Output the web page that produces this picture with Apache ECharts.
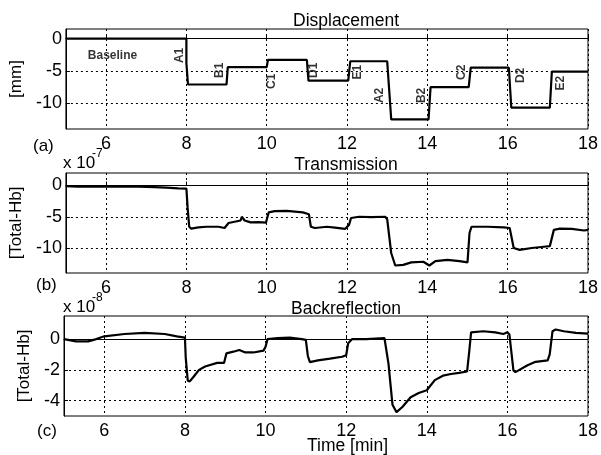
<!DOCTYPE html>
<html><head><meta charset="utf-8">
<script src="https://cdn.jsdelivr.net/npm/echarts@6/dist/echarts.min.js"></script>
<style>html,body{margin:0;padding:0;background:#fff}#c{width:601px;height:455px}</style>
</head><body><div id="c"></div>
<script>
// ---- data ----
const xTicks = [6, 8, 10, 12, 14, 16, 18];
const dispTicks = [-10, -5, 0];
const transTicks = [-10, -5, 0];
const backTicks = [-4, -2, 0];

const dispTime  = [5, 8.0, 8.0, 8.04, 8.04, 9.0, 9.03, 10.0, 10.03, 11.0, 11.04, 12.03, 12.08, 13.0, 13.1, 14.03, 14.08, 15.03, 15.08, 16.03, 16.09, 17.05, 17.1, 18];
const dispValue = [0, 0, -3.8, -3.8, -7.1, -7.1, -4.4, -4.4, -3.3, -3.3, -6.5, -6.5, -3.5, -3.5, -12.5, -12.5, -7.5, -7.5, -4.5, -4.5, -10.7, -10.7, -5.1, -5.1];

const transTime  = [5.0, 5.3, 5.6, 6.0, 6.4, 6.8, 7.2, 7.5, 7.8, 8.0, 8.03, 8.07, 8.12, 8.3, 8.5, 8.8, 8.95, 9.05, 9.2, 9.35, 9.38, 9.45, 9.6, 9.8, 9.98, 10.05, 10.2, 10.5, 10.9, 11.05, 11.1, 11.2, 11.5, 11.7, 11.95, 12.05, 12.1, 12.3, 12.6, 12.95, 13.0, 13.1, 13.2, 13.4, 13.6, 13.9, 14.05, 14.2, 14.5, 14.8, 15.0, 15.05, 15.1, 15.5, 15.9, 16.05, 16.15, 16.3, 16.6, 16.9, 17.05, 17.15, 17.3, 17.6, 17.9, 18.0];
const transValue = [-0.1, -0.2, -0.15, -0.2, -0.15, -0.2, -0.25, -0.35, -0.45, -0.5, -3.5, -6.6, -6.9, -6.7, -6.6, -6.6, -6.8, -6.0, -5.8, -5.6, -5.0, -5.6, -5.9, -5.85, -5.95, -4.3, -4.1, -4.05, -4.3, -4.6, -6.6, -6.8, -6.6, -6.75, -6.95, -6.3, -5.2, -5.0, -5.05, -5.0, -5.4, -10.8, -12.8, -12.7, -12.3, -12.2, -12.8, -12.1, -11.9, -12.1, -12.3, -7.6, -6.6, -6.6, -6.7, -6.8, -10.0, -10.3, -10.0, -9.8, -9.7, -7.1, -6.9, -6.95, -7.2, -7.1];

const backTime  = [5.0, 5.3, 5.6, 5.8, 6.0, 6.5, 7.0, 7.5, 7.8, 8.0, 8.02, 8.07, 8.12, 8.2, 8.35, 8.5, 8.8, 8.97, 9.03, 9.2, 9.35, 9.5, 9.7, 9.95, 10.0, 10.05, 10.3, 10.6, 10.9, 11.0, 11.05, 11.1, 11.3, 11.6, 11.9, 12.0, 12.05, 12.15, 12.5, 12.95, 13.05, 13.15, 13.25, 13.4, 13.6, 13.8, 14.0, 14.2, 14.4, 14.6, 14.8, 15.0, 15.05, 15.1, 15.4, 15.7, 15.9, 16.0, 16.05, 16.15, 16.2, 16.5, 16.7, 17.0, 17.05, 17.12, 17.2, 17.4, 17.7, 18.0];
const backValue = [0, -0.15, -0.15, 0, 0.18, 0.33, 0.4, 0.33, 0.18, 0.1, -1.2, -2.7, -2.75, -2.5, -2.0, -1.78, -1.55, -1.55, -0.93, -0.82, -0.71, -0.87, -0.87, -0.75, -0.5, 0, 0.07, 0.1, 0, -0.05, -1.1, -1.5, -1.38, -1.27, -1.15, -1.05, -0.27, 0, 0, 0.07, -1.6, -4.27, -4.75, -4.4, -3.78, -3.5, -3.33, -2.67, -2.38, -2.27, -2.2, -2.11, -0.9, 0.44, 0.51, 0.44, 0.33, 0.44, 0.3, -2.04, -2.15, -1.7, -1.48, -1.38, -1.0, 0.51, 0.62, 0.51, 0.4, 0.36];

const markNames = ['A1', 'B1', 'C1', 'D1', 'E1', 'A2', 'B2', 'C2', 'D2', 'E2'];
const markTime  = [7.84, 8.83, 10.12, 11.18, 12.27, 12.81, 13.87, 14.86, 16.32, 17.33];
const markValue = [-2.6, -4.9, -6.6, -4.9, -5.2, -8.8, -8.8, -5.2, -5.7, -6.9];
const baselineLabel = {name: 'Baseline', time: 6.16, value: -2.6};

// ---- chart ----
const FONT = "'Liberation Sans', Arial, sans-serif";
const zip = (a, b) => a.map((v, i) => [v, b[i]]);
const grids = [
  {left: 64, right: 11, top: 29, height: 100},
  {left: 64, right: 11, top: 173, height: 100},
  {left: 64, right: 11, top: 316, height: 100}
].map(g => Object.assign(g, {show: true, borderColor: '#000', borderWidth: 1, backgroundColor: '#fff'}));

const dotted = {show: true, lineStyle: {color: '#000', width: 1, type: [2, 3]}};
function xAxis(i) {
  return {
    type: 'value', gridIndex: i, min: 5, max: 18,
    axisLine: {show: true, lineStyle: {color: '#000'}},
    axisTick: {show: true, inside: true, length: 4, customValues: xTicks, lineStyle: {color: '#000'}},
    axisLabel: {customValues: xTicks, fontFamily: FONT, fontSize: 18, color: '#000', margin: 6},
    splitLine: dotted
  };
}
function yAxis(i, min, max, ticks, name, gap) {
  return {
    type: 'value', gridIndex: i, min: min, max: max,
    name: name, nameLocation: 'middle', nameGap: gap, nameRotate: 90,
    nameTextStyle: {fontFamily: FONT, fontSize: 17, color: '#000'},
    axisLine: {show: true, lineStyle: {color: '#000'}},
    axisTick: {show: true, inside: true, length: 4, customValues: ticks, lineStyle: {color: '#000'}},
    axisLabel: {customValues: ticks, fontFamily: FONT, fontSize: 18, color: '#000', margin: 4},
    splitLine: dotted
  };
}
const lineStyle = {color: '#000', width: 2.2};
const option = {
  backgroundColor: '#fff',
  animation: false,
  grid: grids,
  xAxis: [xAxis(0), xAxis(1), xAxis(2)],
  yAxis: [
    yAxis(0, -14, 1.5, dispTicks, '[mm]', 34),
    yAxis(1, -14, 2, transTicks, '[Total-Hb]', 32),
    yAxis(2, -5, 1.5, backTicks, '[Total-Hb]', 31)
  ],
  title: [
    {text: 'Displacement', left: 346, top: 12},
    {text: 'Transmission', left: 346, top: 156},
    {text: 'Backreflection', left: 346, top: 300}
  ].map(t => Object.assign(t, {textAlign: 'center', padding: 0, textStyle: {fontFamily: FONT, fontSize: 17.5, fontWeight: 'normal', color: '#000'}})),
  graphic: [
    {type: 'text', left: 33, top: 138, style: {text: '(a)', font: '17px ' + FONT, fill: '#000'}},
    {type: 'text', left: 36, top: 277, style: {text: '(b)', font: '17px ' + FONT, fill: '#000'}},
    {type: 'text', left: 37, top: 423, style: {text: '(c)', font: '17px ' + FONT, fill: '#000'}},
    {type: 'text', left: 63, top: 155, style: {text: 'x 10', font: '17px ' + FONT, fill: '#000'}},
    {type: 'text', left: 92, top: 148, style: {text: '-7', font: '12px ' + FONT, fill: '#000'}},
    {type: 'text', left: 63, top: 299, style: {text: 'x 10', font: '17px ' + FONT, fill: '#000'}},
    {type: 'text', left: 92, top: 292, style: {text: '-8', font: '12px ' + FONT, fill: '#000'}},
    {type: 'text', left: 307, top: 437, style: {text: 'Time [min]', font: '17.5px ' + FONT, fill: '#000'}}
  ],
  series: [
    {type: 'line', xAxisIndex: 0, yAxisIndex: 0, data: zip(dispTime, dispValue), showSymbol: false, lineStyle: lineStyle},
    {type: 'line', xAxisIndex: 1, yAxisIndex: 1, data: zip(transTime, transValue), showSymbol: false, lineStyle: lineStyle},
    {type: 'line', xAxisIndex: 2, yAxisIndex: 2, data: zip(backTime, backValue), showSymbol: false, lineStyle: lineStyle},
    {type: 'scatter', xAxisIndex: 0, yAxisIndex: 0, symbolSize: 0, silent: true,
     data: markNames.map((n, i) => ({name: n, value: [markTime[i], markValue[i]]})),
     label: {show: true, position: 'inside', rotate: 90, formatter: '{b}', fontFamily: FONT, fontSize: 12, fontWeight: 'bold', color: '#000'}},
    {type: 'scatter', xAxisIndex: 0, yAxisIndex: 0, symbolSize: 0, silent: true,
     data: [{name: baselineLabel.name, value: [baselineLabel.time, baselineLabel.value]}],
     label: {show: true, position: 'inside', formatter: '{b}', fontFamily: FONT, fontSize: 12, fontWeight: 'bold', color: '#000'}}
  ]
};
echarts.init(document.getElementById('c'), null, {renderer: 'canvas'}).setOption(option);
</script></body></html>
